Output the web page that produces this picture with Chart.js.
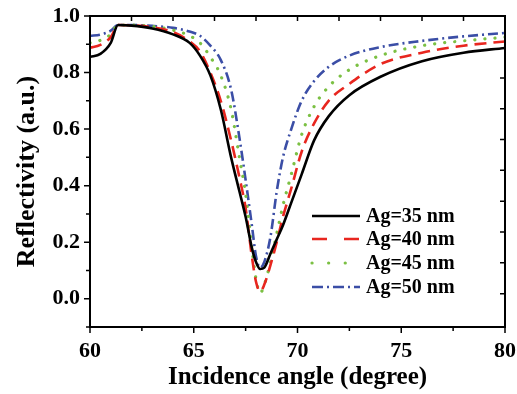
<!DOCTYPE html>
<html>
<head>
<meta charset="utf-8">
<script src="https://cdn.jsdelivr.net/npm/chart.js@4.4.1/dist/chart.umd.min.js"></script>
<style>
  html, body { margin: 0; padding: 0; background: #fff; }
  #wrap { width: 517px; height: 394px; }
</style>
</head>
<body>
<div id="wrap"><canvas id="myChart" width="517" height="394"></canvas></div>
<script>
// Incidence angle (degree)
const angles = [60, 60.5, 61, 61.35, 62, 63, 64, 64.8, 65.3, 65.8, 66.3, 66.8, 67.2, 67.5, 67.8, 68.0, 68.2, 68.4, 68.7, 69.0, 69.3, 69.7, 70.2, 70.8, 71.5, 72.5, 74, 76, 78, 80];
// Reflectivity for each Ag thickness
const ag35 = [0.855, 0.866, 0.905, 0.968, 0.966, 0.956, 0.935, 0.905, 0.86, 0.79, 0.67, 0.50, 0.38, 0.29, 0.18, 0.13, 0.105, 0.11, 0.16, 0.21, 0.26, 0.34, 0.44, 0.56, 0.645, 0.72, 0.785, 0.84, 0.87, 0.887];
const ag40 = [0.888, 0.898, 0.925, 0.968, 0.967, 0.96, 0.943, 0.91, 0.875, 0.80, 0.70, 0.56, 0.43, 0.32, 0.15, 0.06, 0.025, 0.05, 0.12, 0.20, 0.29, 0.39, 0.52, 0.62, 0.70, 0.76, 0.83, 0.87, 0.895, 0.91];
const ag45 = [0.905, 0.914, 0.935, 0.968, 0.968, 0.963, 0.95, 0.93, 0.905, 0.855, 0.79, 0.67, 0.50, 0.37, 0.18, 0.07, 0.02, 0.05, 0.13, 0.23, 0.33, 0.44, 0.58, 0.68, 0.75, 0.81, 0.86, 0.895, 0.912, 0.925];
const ag50 = [0.93, 0.934, 0.948, 0.968, 0.968, 0.965, 0.958, 0.945, 0.93, 0.895, 0.845, 0.74, 0.57, 0.42, 0.26, 0.15, 0.11, 0.13, 0.22, 0.38, 0.50, 0.60, 0.70, 0.77, 0.82, 0.86, 0.89, 0.912, 0.928, 0.94];
const seriesLabels = ["Ag=35 nm", "Ag=40 nm", "Ag=45 nm", "Ag=50 nm"];

// Tick values
const xMajor = [60, 65, 70, 75, 80];
const xMinor = [62.5, 67.5, 72.5, 77.5];
const yMajor = [0.0, 0.2, 0.4, 0.6, 0.8, 1.0];
const yMinor = [-0.1, 0.1, 0.3, 0.5, 0.7, 0.9];
const topTicks = [62, 64, 66, 68, 70, 72, 74, 76, 78];
const rightTicks = [0.018, 0.127, 0.236, 0.345, 0.454, 0.563, 0.672, 0.781];

const FONT = "'Liberation Serif', 'Times New Roman', serif";

function pts(vals) {
    return angles.map((a, i) => ({ x: a, y: vals[i] }));
}

// frame, ticks and legend
const decor = {
    id: "decor",
    afterDatasetsDraw(chart) {
        const c = chart.ctx;
        const a = chart.chartArea;
        const xs = chart.scales.x, ys = chart.scales.y;
        c.save();
        c.strokeStyle = "#000";
        c.lineWidth = 2;
        c.strokeRect(a.left, a.top, a.right - a.left, a.bottom - a.top);
        c.lineWidth = 1.5;
        c.beginPath();
        xMajor.forEach(v => { const p = xs.getPixelForValue(v); c.moveTo(p, a.bottom); c.lineTo(p, a.bottom + 6); });
        xMinor.forEach(v => { const p = xs.getPixelForValue(v); c.moveTo(p, a.bottom); c.lineTo(p, a.bottom + 4); });
        yMajor.forEach(v => { const p = ys.getPixelForValue(v); c.moveTo(a.left, p); c.lineTo(a.left - 6, p); });
        yMinor.forEach(v => { const p = ys.getPixelForValue(v); c.moveTo(a.left, p); c.lineTo(a.left - 4, p); });
        topTicks.forEach(v => { const p = xs.getPixelForValue(v); c.moveTo(p, a.top); c.lineTo(p, a.top + 5); });
        rightTicks.forEach(v => { const p = ys.getPixelForValue(v); c.moveTo(a.right, p); c.lineTo(a.right - 5, p); });
        c.stroke();

        // legend
        const lx = 312, rows = [216, 239, 263, 287];
        chart.data.datasets.forEach((ds, i) => {
            const y = rows[i];
            c.strokeStyle = ds.borderColor;
            c.lineWidth = ds.borderWidth;
            c.lineCap = ds.borderCapStyle || "butt";
            c.setLineDash(ds.legendDash || []);
            c.beginPath();
            c.moveTo(lx, y);
            c.lineTo(lx + 48, y);
            c.stroke();
            c.setLineDash([]);
            c.fillStyle = "#000";
            c.font = "bold 20px " + FONT;
            c.textBaseline = "middle";
            c.fillText(ds.label, lx + 54, y + 1);
        });
        c.restore();
    }
};

const ctx = document.getElementById("myChart");
new Chart(ctx, {
    type: "line",
    data: {
        datasets: [
            { label: seriesLabels[0], data: pts(ag35), borderColor: "#000000", borderWidth: 2.6 },
            { label: seriesLabels[1], data: pts(ag40), borderColor: "#e8261f", borderWidth: 2.6, borderDash: [12, 7], legendDash: [15, 17] },
            { label: seriesLabels[2], data: pts(ag45), borderColor: "#7bc043", borderWidth: 3.2, borderDash: [0.1, 10], borderCapStyle: "round", legendDash: [0.1, 16.5] },
            { label: seriesLabels[3], data: pts(ag50), borderColor: "#3b4ea6", borderWidth: 2.6, borderDash: [10, 4, 2, 4], legendDash: [11, 4, 2, 4] },
        ],
    },
    options: {
        responsive: false,
        animation: false,
        layout: { padding: { top: 16, right: 12, left: 0, bottom: 0 } },
        elements: { point: { radius: 0 }, line: { cubicInterpolationMode: "monotone", fill: false } },
        plugins: { legend: { display: false }, tooltip: { enabled: false } },
        scales: {
            x: {
                type: "linear",
                min: 60,
                max: 80,
                afterFit(s) { s.height = 67; s.paddingLeft = 0; s.paddingRight = 0; },
                afterBuildTicks(s) { s.ticks = xMajor.map(v => ({ value: v })); },
                grid: { display: false, drawTicks: false },
                border: { display: false },
                ticks: { color: "#000", padding: 11, maxRotation: 0, font: { family: FONT, size: 22, weight: "bold" } },
                title: { display: true, text: "Incidence angle (degree)", color: "#000", padding: { top: 0, bottom: 1 }, font: { family: FONT, size: 25, weight: "bold" } },
            },
            y: {
                type: "linear",
                min: -0.1,
                max: 1.0,
                afterFit(s) { s.width = 90; s.paddingTop = 0; s.paddingBottom = 0; },
                afterBuildTicks(s) { s.ticks = yMajor.map(v => ({ value: v })); },
                grid: { display: false, drawTicks: false },
                border: { display: false },
                ticks: { color: "#000", padding: 10, callback: v => v.toFixed(1), font: { family: FONT, size: 22, weight: "bold" } },
                title: { display: true, text: "Reflectivity (a.u.)", color: "#000", padding: { top: 12, bottom: 0 }, font: { family: FONT, size: 26, weight: "bold" } },
            },
        },
    },
    plugins: [decor],
});
</script>
</body>
</html>
